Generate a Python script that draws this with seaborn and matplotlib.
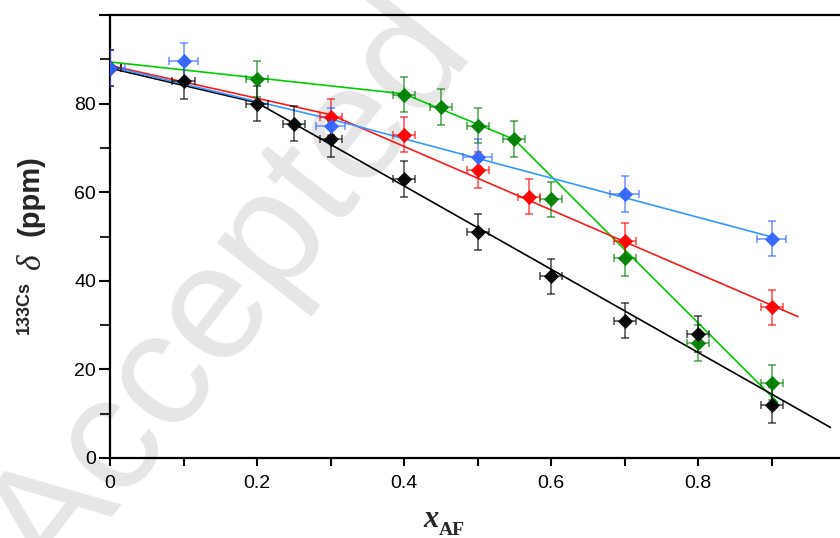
import numpy as np
import pandas as pd
import matplotlib
matplotlib.use("Agg")
import matplotlib.pyplot as plt
import seaborn as sns
from matplotlib.ticker import MultipleLocator

# ---------------- data ----------------
x_black = [0, 0.1, 0.2, 0.25, 0.3, 0.4, 0.5, 0.6, 0.7, 0.8, 0.9]
y_black = [88, 85, 80, 75.5, 72, 63, 51, 41, 31, 28, 12]
x_red = [0, 0.3, 0.4, 0.5, 0.57, 0.7, 0.9]
y_red = [88, 77, 73, 65, 59, 49, 34]
x_green = [0, 0.2, 0.4, 0.45, 0.5, 0.55, 0.6, 0.7, 0.8, 0.9]
y_green = [88, 85.6, 82, 79.2, 75, 72, 58.4, 45.1, 26, 17]
x_blue = [0, 0.1, 0.3, 0.5, 0.7, 0.9]
y_blue = [88, 89.6, 75, 68, 59.6, 49.5]

fit_x_black = [0, 0.2, 0.98]
fit_y_black = [88, 80.2, 6.9]
fit_x_red = [0, 0.3, 0.936]
fit_y_red = [88.6, 77.5, 31.9]
fit_x_green = [0, 0.4, 0.55, 0.908]
fit_y_green = [89.4, 82.2, 71.9, 12.6]
fit_x_blue = [0, 0.3, 0.9]
fit_y_blue = [88.4, 76.5, 49.9]

y_err = 4.0
x_err_blue = 0.02
x_err_other = 0.015

x_ticks = [0, 0.2, 0.4, 0.6, 0.8]
x_tick_labels = ["0", "0.2", "0.4", "0.6", "0.8"]
y_ticks = [0, 20, 40, 60, 80, 100]
y_tick_labels = ["0", "20", "40", "60", "80", ""]

# ---------------- style ----------------
sns.set_theme(style="ticks")
plt.rcParams["font.family"] = ["Liberation Sans", "DejaVu Sans"]

W, H = 840, 538
fig = plt.figure(figsize=(W / 100, H / 100), dpi=100)
fig.patch.set_facecolor("white")

def px(x, y):
    return x / W, 1 - y / H

# watermark (behind axes)
fig.text(*px(55, 590), "Accepted", rotation=52, rotation_mode="anchor",
         ha="left", va="baseline", fontsize=118, color="#e6e6e6",
         family="Liberation Sans", zorder=-5)

ax = fig.add_axes([110 / W, (H - 458) / H, (W - 110) / W, (458 - 15) / H])
ax.set_facecolor("none")

series = [
    ("green", x_green, y_green, fit_x_green, fit_y_green, "#008000", "#00cc00", x_err_other),
    ("red", x_red, y_red, fit_x_red, fit_y_red, "#ff0000", "#ff1a1a", x_err_other),
    ("black", x_black, y_black, fit_x_black, fit_y_black, "#000000", "#000000", x_err_other),
    ("blue", x_blue, y_blue, fit_x_blue, fit_y_blue, "#3366ff", "#3399ff", x_err_blue),
]

for name, xs, ys, fx, fy, mcol, lcol, xe in series:
    fit_df = pd.DataFrame({"x": fx, "y": fy})
    sns.lineplot(data=fit_df, x="x", y="y", ax=ax, color=lcol, lw=1.2,
                 sort=False, estimator=None, zorder=2)

for name, xs, ys, fx, fy, mcol, lcol, xe in series:
    ax.errorbar(xs, ys, yerr=y_err, xerr=xe, fmt="none", ecolor=mcol,
                elinewidth=1.3, capsize=3, capthick=1.3, alpha=0.6, zorder=3)
    pts = pd.DataFrame({"x": xs, "y": ys})
    sns.scatterplot(data=pts, x="x", y="y", ax=ax, marker="D", s=60,
                    color=mcol, linewidth=0, alpha=0.95, zorder=4)

ax.set_xlim(0, 0.993)
ax.set_ylim(0, 100)
ax.set_xticks(x_ticks)
ax.set_xticklabels(x_tick_labels)
ax.set_yticks(y_ticks)
ax.set_yticklabels(y_tick_labels)
ax.xaxis.set_minor_locator(MultipleLocator(0.1))
ax.yaxis.set_minor_locator(MultipleLocator(10))
ax.set_xlabel("")
ax.set_ylabel("")

for s in ["left", "bottom", "top"]:
    ax.spines[s].set_linewidth(1.6)
    ax.spines[s].set_color("black")
ax.spines["right"].set_visible(False)

ax.tick_params(axis="x", which="both", direction="out", length=6, width=1.5,
               labelsize=14, pad=6, colors="black", top=False)
ax.tick_params(axis="y", which="major", direction="out", length=8, width=1.5,
               labelsize=14, pad=2, colors="black", right=False)
ax.tick_params(axis="y", which="minor", direction="out", length=7, width=1.5,
               right=False)

# y label pieces
fig.text(*px(24, 308), "133Cs", rotation=90, ha="center", va="center",
         fontsize=13, fontweight="bold", family="Liberation Sans")
fig.text(*px(32, 262), "δ", rotation=90, ha="center", va="center",
         fontsize=24, style="italic", family="Liberation Serif")
fig.text(*px(31, 196), "(ppm)", rotation=90, ha="center", va="center",
         fontsize=21, fontweight="bold", family="Liberation Sans")

# x label pieces
fig.text(*px(423, 527), "x", ha="left", va="baseline", fontsize=22,
         fontweight="bold", style="italic", family="Liberation Serif")
fig.text(*px(439, 535), "AF", ha="left", va="baseline", fontsize=14,
         fontweight="bold", family="Liberation Serif")

fig.savefig("out.png", dpi=100, facecolor="white")
